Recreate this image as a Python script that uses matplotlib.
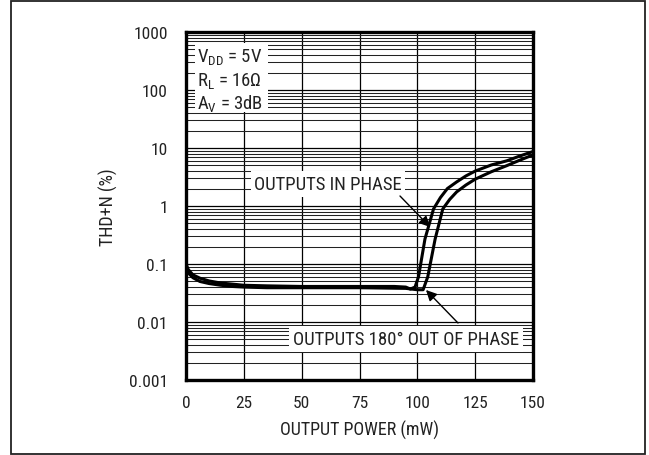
import matplotlib
matplotlib.use("Agg")
import matplotlib.pyplot as plt
from matplotlib.patches import Rectangle
from matplotlib.ticker import FixedLocator, NullFormatter, LogLocator

FONT = ['Roboto Condensed', 'DejaVu Sans']
plt.rcParams['font.family'] = FONT
plt.rcParams['mathtext.fontset'] = 'custom'
plt.rcParams['mathtext.rm'] = 'Roboto Condensed'
plt.rcParams['mathtext.it'] = 'Roboto Condensed'

# ---- data ----
x_in = [0, 1, 3, 6, 10, 15, 20, 25, 35, 50, 75, 90, 95, 97, 99, 100.5, 103.3, 107, 110, 113,
        117, 121, 125, 132, 138.6, 144, 150]
y_in = [0.1, 0.08, 0.065, 0.057, 0.051, 0.047, 0.045, 0.043, 0.042, 0.041, 0.041, 0.041, 0.040,
        0.037, 0.040, 0.06, 0.27, 0.89, 1.4, 2.0, 2.6, 3.3, 4.0, 5.1, 6.0, 7.2, 8.7]

x_out = [0, 1, 3, 6, 10, 15, 20, 25, 35, 50, 75, 95, 100, 102.5, 104.5, 107.7, 111, 114, 117,
         121, 125, 132, 138.6, 144, 150]
y_out = [0.09, 0.07, 0.058, 0.05, 0.046, 0.043, 0.041, 0.040, 0.039, 0.039, 0.039, 0.038, 0.036,
         0.036, 0.06, 0.27, 0.89, 1.3, 1.75, 2.3, 2.9, 3.9, 4.95, 6.1, 7.6]

x_ticks = [0, 25, 50, 75, 100, 125, 150]
y_ticks = [0.001, 0.01, 0.1, 1, 10, 100, 1000]
y_ticklabels = ['0.001', '0.01', '0.1', '1', '10', '100', '1000']

W, H = 649, 456
fig = plt.figure(figsize=(W / 100, H / 100), dpi=100)
# outer frame
fig.patches.append(Rectangle((11 / W, 1 - 455 / H), (645 - 11) / W, (455 - 2) / H,
                             transform=fig.transFigure, fill=False, edgecolor='#222222',
                             lw=1.3, zorder=0))

ax = fig.add_axes([186 / W, 1 - 381 / H, (533 - 186) / W, (381 - 33) / H])
ax.set_yscale('log')
ax.set_xlim(0, 150)
ax.set_ylim(0.001, 1000)

ax.xaxis.set_major_locator(FixedLocator(x_ticks))
ax.set_xticklabels([str(t) for t in x_ticks])
ax.yaxis.set_major_locator(FixedLocator(y_ticks))
ax.set_yticklabels(y_ticklabels)
ax.yaxis.set_minor_locator(LogLocator(base=10, subs=range(2, 10), numticks=100))
ax.yaxis.set_minor_formatter(NullFormatter())

ax.grid(True, which='major', axis='both', color='black', lw=0.9)
ax.grid(True, which='minor', axis='y', color='#222222', lw=0.75)
ax.tick_params(which='both', length=0)
ax.tick_params(axis='y', pad=13, labelsize=12.5, labelcolor='#222222')
ax.tick_params(axis='x', pad=11, labelsize=12.5, labelcolor='#222222')
for s in ax.spines.values():
    s.set_linewidth(2.4)
    s.set_zorder(5)

ax.plot(x_in, y_in, color='black', lw=2.2, zorder=3, solid_joinstyle='round')
ax.plot(x_out, y_out, color='black', lw=2.2, zorder=3, solid_joinstyle='round')

ax.set_xlabel('OUTPUT POWER (mW)', fontsize=13, labelpad=7, color='#222222')
ax.set_ylabel('THD+N (%)', fontsize=13, labelpad=8, color='#222222')

def ax_xy(px, py):
    return ((px - 186) / 347, (381 - py) / 348)

# condition box
x0, y0 = ax_xy(195, 113)
x1, y1 = ax_xy(268, 44)
ax.add_patch(Rectangle((x0, y0), x1 - x0, y1 - y0, transform=ax.transAxes,
                       facecolor='white', edgecolor='none', zorder=4))
for py, s in [(57, r'$\mathregular{V_{DD}}$ = 5V'),
              (81, r'$\mathregular{R_L}$ = 16Ω'),
              (104, r'$\mathregular{A_V}$ = 3dB')]:
    tx, ty = ax_xy(197, py)
    ax.text(tx, ty, s, transform=ax.transAxes, ha='left', va='center', fontsize=13.5,
            zorder=6, color='#222222')

# annotation labels
tx, ty = ax_xy(328, 185)
ax.text(tx, ty, 'OUTPUTS IN PHASE', transform=ax.transAxes, ha='center', va='center',
        fontsize=13.5, zorder=6, color='#222222',
        bbox=dict(facecolor='white', edgecolor='none', pad=2.5))
tx, ty = ax_xy(406, 340)
ax.text(tx, ty, 'OUTPUTS 180° OUT OF PHASE', transform=ax.transAxes, ha='center',
        va='center', fontsize=13.5, zorder=6, color='#222222',
        bbox=dict(facecolor='white', edgecolor='none', pad=2.5))

ax.annotate('', xy=ax_xy(430, 228), xytext=ax_xy(400, 197),
            xycoords='axes fraction', textcoords='axes fraction',
            arrowprops=dict(arrowstyle='-|>', color='black', lw=1.0, mutation_scale=16,
                            shrinkA=0, shrinkB=0), zorder=6)
ax.annotate('', xy=ax_xy(426, 291), xytext=ax_xy(458, 324),
            xycoords='axes fraction', textcoords='axes fraction',
            arrowprops=dict(arrowstyle='-|>', color='black', lw=1.0, mutation_scale=16,
                            shrinkA=0, shrinkB=0), zorder=6)

fig.savefig('out.png', dpi=100)
